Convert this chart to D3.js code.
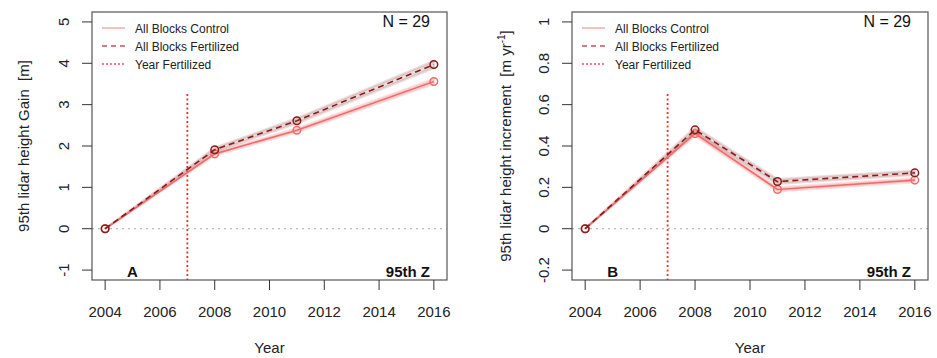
<!DOCTYPE html>
<html>
<head>
<meta charset="utf-8">
<script src="https://cdn.jsdelivr.net/npm/d3@7"></script>
<style>
  body { margin: 0; background: #fff; }
  svg { font-family: "Liberation Sans", Arial, sans-serif; }
</style>
</head>
<body>
<div id="chart"></div>
<script>
// data
const years = [2004, 2008, 2011, 2016];
const fertYear = 2007;

const gainControl = [0, 1.81, 2.38, 3.56];
const gainFert = [0, 1.91, 2.61, 3.97];
const gainControlSE = [0, 0.035, 0.045, 0.06];
const gainFertSE = [0, 0.045, 0.06, 0.08];

const incControl = [0, 0.46, 0.19, 0.235];
const incFert = [0, 0.478, 0.228, 0.27];
const incControlSE = [0, 0.01, 0.009, 0.009];
const incFertSE = [0, 0.012, 0.011, 0.01];

const xTicks = [2004, 2006, 2008, 2010, 2012, 2014, 2016];
const gainTicks = [-1, 0, 1, 2, 3, 4, 5];
const incTicks = [-0.2, 0, 0.2, 0.4, 0.6, 0.8, 1];

const legendLabels = ["All Blocks Control", "All Blocks Fertilized", "Year Fertilized"];

const W = 937, H = 358;
const colControl = "#f26b6b";
const colFert = "#8b1a1a";
const colVert = "#ff2a2a";
const textCol = "#222";

const svg = d3.select("#chart").append("svg")
    .attr("width", W)
    .attr("height", H);

const panels = [
    {left: 92, right: 447, ctrl: gainControl, fert: gainFert, ctrlSE: gainControlSE, fertSE: gainFertSE,
     yTicks: gainTicks, fmt: d => String(d), label: "A", titleX: 29, tickLabelX: 69,
     title: ["95th lidar height Gain  [m]"]},
    {left: 572, right: 928, ctrl: incControl, fert: incFert, ctrlSE: incControlSE, fertSE: incFertSE,
     yTicks: incTicks, fmt: d => d === 0 || d === 1 ? String(d) : d.toFixed(1), label: "B", titleX: 511, tickLabelX: 549,
     title: ["95th lidar height increment  [m yr", "-1", "]"]}
];

const plotTop = 12, plotBottom = 280;

panels.forEach(p => {
    const yMin = d3.min(p.yTicks), yMax = d3.max(p.yTicks);
    const pad = (yMax - yMin) * 0.04;
    const x = d3.scaleLinear().domain([2004 - 0.48, 2016 + 0.48]).range([p.left, p.right]);
    const y = d3.scaleLinear().domain([yMin - pad, yMax + pad]).range([plotBottom, plotTop]);

    const g = svg.append("g");

    // zero reference line
    g.append("line")
        .attr("x1", p.left).attr("x2", p.right)
        .attr("y1", y(0)).attr("y2", y(0))
        .attr("stroke", "#bbb")
        .attr("stroke-width", 1.2)
        .attr("stroke-dasharray", "2,4");

    // fertilization year
    g.append("line")
        .attr("x1", x(fertYear)).attr("x2", x(fertYear))
        .attr("y1", y(yMax - (yMax - yMin) * 0.29)).attr("y2", plotBottom)
        .attr("stroke", colVert)
        .attr("stroke-width", 1.8)
        .attr("stroke-dasharray", "2,2.5");

    const series = [
        {vals: p.ctrl, se: p.ctrlSE, col: colControl, band: "rgba(240,120,120,0.22)", dash: null},
        {vals: p.fert, se: p.fertSE, col: colFert, band: "rgba(139,50,50,0.17)", dash: "6,4"}
    ];

    series.forEach(s => {
        const pts = years.map((yr, i) => ({x: yr, v: s.vals[i], se: s.se[i]}));
        const area = d3.area().x(d => x(d.x)).y0(d => y(d.v - d.se)).y1(d => y(d.v + d.se));
        g.append("path")
            .attr("d", area(pts))
            .attr("fill", s.band)
            .attr("stroke", s.band)
            .attr("stroke-width", 2.5);
    });

    series.forEach(s => {
        const pts = years.map((yr, i) => ({x: yr, v: s.vals[i]}));
        const line = d3.line().x(d => x(d.x)).y(d => y(d.v));
        g.append("path")
            .attr("d", line(pts))
            .attr("fill", "none")
            .attr("stroke", s.col)
            .attr("stroke-width", 1.6)
            .attr("stroke-dasharray", s.dash);
        g.selectAll(null)
            .data(pts)
            .join("circle")
            .attr("cx", d => x(d.x))
            .attr("cy", d => y(d.v))
            .attr("r", 3.8)
            .attr("fill", "none")
            .attr("stroke", s.col)
            .attr("stroke-width", 1.5);
    });

    // box
    g.append("rect")
        .attr("x", p.left).attr("y", plotTop)
        .attr("width", p.right - p.left).attr("height", plotBottom - plotTop)
        .attr("fill", "none")
        .attr("stroke", "#555")
        .attr("stroke-width", 1.2);

    // x axis
    g.selectAll(null).data(xTicks).join("line")
        .attr("x1", d => x(d)).attr("x2", d => x(d))
        .attr("y1", plotBottom).attr("y2", plotBottom + 10)
        .attr("stroke", "#333");
    g.selectAll(null).data(xTicks).join("text")
        .attr("x", d => x(d)).attr("y", 317)
        .attr("text-anchor", "middle")
        .attr("font-size", 15)
        .attr("fill", textCol)
        .text(d => d);
    g.append("text")
        .attr("x", (p.left + p.right) / 2).attr("y", 353)
        .attr("text-anchor", "middle")
        .attr("font-size", 15)
        .attr("fill", textCol)
        .text("Year");

    // y axis
    g.selectAll(null).data(p.yTicks).join("line")
        .attr("x1", p.left - 10).attr("x2", p.left)
        .attr("y1", d => y(d)).attr("y2", d => y(d))
        .attr("stroke", "#333");
    g.selectAll(null).data(p.yTicks).join("text")
        .attr("transform", d => `translate(${p.tickLabelX},${y(d)}) rotate(-90)`)
        .attr("text-anchor", "middle")
        .attr("font-size", 15)
        .attr("fill", textCol)
        .text(p.fmt);

    const title = g.append("text")
        .attr("transform", `translate(${p.titleX},${(plotTop + plotBottom) / 2}) rotate(-90)`)
        .attr("text-anchor", "middle")
        .attr("font-size", 15)
        .attr("fill", textCol)
        .attr("xml:space", "preserve");
    title.append("tspan").text(p.title[0]);
    if (p.title.length > 1) {
        title.append("tspan").attr("font-size", 10).attr("dy", -6).text(p.title[1]);
        title.append("tspan").attr("dy", 6).text(p.title[2]);
    }

    // legend
    const lx = p.left + 10;
    const legendStyles = [
        {col: "#f4a0a0", dash: null},
        {col: "#b85a5a", dash: "5,4"},
        {col: "#ff5050", dash: "2,2"}
    ];
    legendLabels.forEach((lab, i) => {
        const ly = 28 + i * 18;
        g.append("line")
            .attr("x1", lx).attr("x2", lx + 23)
            .attr("y1", ly).attr("y2", ly)
            .attr("stroke", legendStyles[i].col)
            .attr("stroke-width", 1.3)
            .attr("stroke-dasharray", legendStyles[i].dash);
        g.append("text")
            .attr("x", lx + 33).attr("y", ly + 4.5)
            .attr("font-size", 12)
            .attr("fill", textCol)
            .text(lab);
    });

    g.append("text")
        .attr("x", p.right - 17).attr("y", 27)
        .attr("text-anchor", "end")
        .attr("font-size", 16)
        .attr("fill", "#111")
        .text("N = 29");

    g.append("text")
        .attr("x", x(2005)).attr("y", 277)
        .attr("text-anchor", "middle")
        .attr("font-size", 15)
        .attr("font-weight", "bold")
        .attr("fill", "#111")
        .text(p.label);
    g.append("text")
        .attr("x", p.right - 17).attr("y", 277)
        .attr("text-anchor", "end")
        .attr("font-size", 15)
        .attr("font-weight", "bold")
        .attr("fill", "#111")
        .text("95th Z");
});
</script>
</body>
</html>
